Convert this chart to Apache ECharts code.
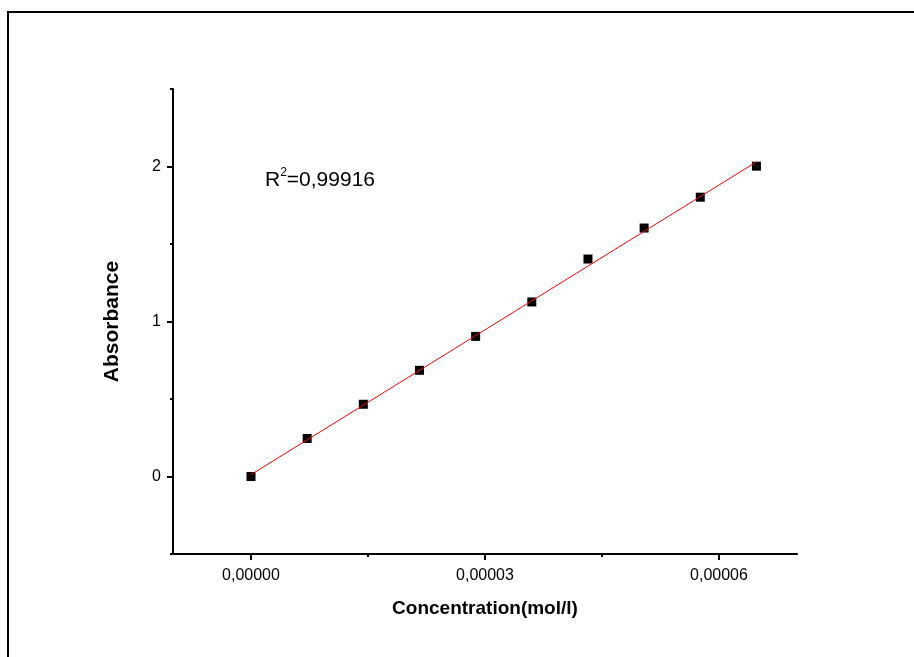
<!DOCTYPE html>
<html>
<head>
<meta charset="utf-8">
<script src="https://cdn.jsdelivr.net/npm/echarts@6/dist/echarts.min.js"></script>
<style>
html,body{margin:0;padding:0;background:#fff;}
#chart{width:914px;height:657px;}
</style>
</head>
<body>
<div id="chart"></div>
<script>
// Data
const concentration = [0, 0.0000072, 0.0000144, 0.0000216, 0.0000288, 0.000036, 0.0000432, 0.0000504, 0.0000576, 0.0000648];
const absorbance = [0, 0.245, 0.466, 0.685, 0.904, 1.126, 1.403, 1.603, 1.802, 2.002];
const fitConcentration = [0, 0.0000648];
const fitAbsorbance = [0.012, 2.03];
const xMajorTicks = [0, 0.00003, 0.00006];
const xMinorTicks = [0.000015, 0.000045];
const yMajorTicks = [0, 1, 2];
const yMinorTicks = [-0.5, 0.5, 1.5, 2.5];
const xName = 'Concentration(mol/l)';
const yName = 'Absorbance';
const r2Text = '0,99916';

const chart = echarts.init(document.getElementById('chart'), null, {renderer: 'canvas'});
const font = '"Liberation Sans", Arial, sans-serif';
const fmtX = v => v.toFixed(5).replace('.', ',');

const baseX = {type: 'value', min: -0.00001, max: 0.00007, position: 'bottom', splitLine: {show: false}};
const baseY = {type: 'value', min: -0.5, max: 2.5, position: 'left', splitLine: {show: false}};

chart.setOption({
  backgroundColor: '#ffffff',
  animation: false,
  grid: {left: 173, top: 89, right: 117, bottom: 103, containLabel: false},
  xAxis: [
    Object.assign({}, baseX, {
      name: xName, nameLocation: 'middle', nameGap: 45,
      nameTextStyle: {fontFamily: font, fontWeight: 'bold', fontSize: 19, color: '#000'},
      axisLine: {show: true, onZero: false, lineStyle: {color: '#000', width: 2}},
      axisTick: {show: true, inside: false, length: 6, customValues: xMajorTicks, lineStyle: {color: '#000', width: 2}},
      axisLabel: {show: true, customValues: xMajorTicks, margin: 14, fontFamily: font, fontSize: 16, color: '#000', formatter: fmtX}
    }),
    Object.assign({}, baseX, {
      axisLine: {show: false, onZero: false},
      axisTick: {show: true, inside: false, length: 3, customValues: xMinorTicks, lineStyle: {color: '#000', width: 2}},
      axisLabel: {show: false}
    })
  ],
  yAxis: [
    Object.assign({}, baseY, {
      name: yName, nameLocation: 'middle', nameGap: 50, nameRotate: 90,
      nameTextStyle: {fontFamily: font, fontWeight: 'bold', fontSize: 21, color: '#000'},
      axisLine: {show: true, onZero: false, lineStyle: {color: '#000', width: 2}},
      axisTick: {show: true, inside: false, length: 6, customValues: yMajorTicks, lineStyle: {color: '#000', width: 2}},
      axisLabel: {show: true, customValues: yMajorTicks, margin: 12, fontFamily: font, fontSize: 16, color: '#000', formatter: v => String(v)}
    }),
    Object.assign({}, baseY, {
      axisLine: {show: false, onZero: false},
      axisTick: {show: true, inside: false, length: 3, customValues: yMinorTicks, lineStyle: {color: '#000', width: 2}},
      axisLabel: {show: false}
    })
  ],
  series: [
    {
      type: 'scatter', xAxisIndex: 0, yAxisIndex: 0,
      symbol: 'rect', symbolSize: 9,
      itemStyle: {color: '#000', opacity: 1},
      data: concentration.map((c, i) => [c, absorbance[i]]),
      z: 2
    },
    {
      type: 'line', xAxisIndex: 0, yAxisIndex: 0,
      showSymbol: false, symbol: 'none',
      lineStyle: {color: '#ff0000', width: 1},
      data: fitConcentration.map((c, i) => [c, fitAbsorbance[i]]),
      z: 3
    }
  ],
  graphic: [
    {type: 'line', shape: {x1: 8, y1: 12, x2: 914, y2: 12}, style: {stroke: '#000', lineWidth: 2}},
    {type: 'line', shape: {x1: 8, y1: 11, x2: 8, y2: 657}, style: {stroke: '#000', lineWidth: 2}},
    {type: 'text', left: 265, top: 167, style: {
      text: '{r|R}{s|2}{r|=' + r2Text + '}',
      rich: {
        r: {fontFamily: font, fontSize: 21, fill: '#000', verticalAlign: 'bottom', lineHeight: 24},
        s: {fontFamily: font, fontSize: 12, fill: '#000', verticalAlign: 'top', lineHeight: 24, padding: [0, 0, 10, 0]}
      }
    }}
  ]
});
</script>
</body>
</html>
